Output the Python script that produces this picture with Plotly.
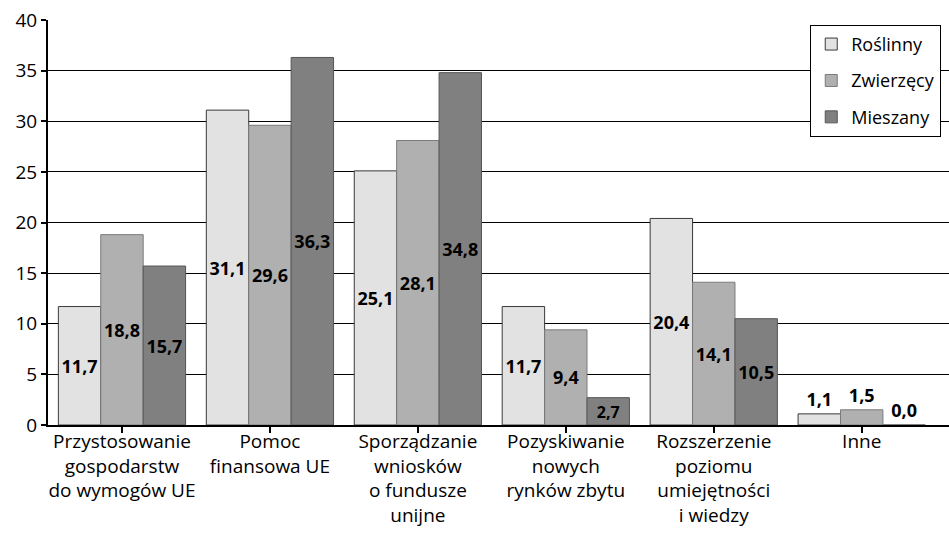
import plotly.graph_objects as go

categories = [
    "Przystosowanie<br>gospodarstw<br>do wymogów UE",
    "Pomoc<br>finansowa UE",
    "Sporządzanie<br>wniosków<br>o fundusze<br>unijne",
    "Pozyskiwanie<br>nowych<br>rynków zbytu",
    "Rozszerzenie<br>poziomu<br>umiejętności<br>i wiedzy",
    "Inne",
]
series_names = ["Roślinny", "Zwierzęcy", "Mieszany"]
roslinny = [11.7, 31.1, 25.1, 11.7, 20.4, 1.1]
zwierzecy = [18.8, 29.6, 28.1, 9.4, 14.1, 1.5]
mieszany = [15.7, 36.3, 34.8, 2.7, 10.5, 0.0]
y_ticks = [0, 5, 10, 15, 20, 25, 30, 35, 40]

fills = ["#e2e2e2", "#b0b0b0", "#808080"]
outlines = ["#3a3a3a", "#7a7a7a", "#555555"]
FONT = "Open Sans"

fig = go.Figure()
xs = list(range(len(categories)))
for i, (name, vals) in enumerate(zip(series_names, [roslinny, zwierzecy, mieszany])):
    pos = ["inside" if v >= 2 else "outside" for v in vals]
    fig.add_trace(go.Bar(
        x=xs, y=vals, name=name, legendgroup=name,
        marker=dict(color=fills[i], line=dict(color=outlines[i], width=1)),
        texttemplate="<b>%{y:.1f}</b>", textposition=pos,
        insidetextanchor="middle", textangle=0,
        textfont=dict(family=FONT, size=18, color="black"),
        cliponaxis=False,
    ))

fig.update_layout(
    width=949, height=534,
    margin=dict(l=48, r=0, t=20, b=109),
    paper_bgcolor="white", plot_bgcolor="white",
    barmode="group", bargap=0.14, bargroupgap=0,
    separators=", ",
    font=dict(family=FONT, size=18, color="black"),
    showlegend=True,
    legend=dict(
        x=0.846, y=0.988, xanchor="left", yanchor="top",
        bordercolor="black", borderwidth=1, bgcolor="white",
        font=dict(family=FONT, size=18, color="black"),
        traceorder="grouped", tracegroupgap=10,
    ),
)
fig.update_xaxes(
    tickmode="array", tickvals=xs, ticktext=categories,
    range=[-0.5, 5.59], tickson="boundaries", automargin=False,
    ticks="outside", ticklen=6, tickwidth=2, tickcolor="black",
    ticklabelstandoff=-8,
    showline=True, linecolor="black", linewidth=2,
    showgrid=False, zeroline=False,
    tickfont=dict(family=FONT, size=19, color="black"),
)
fig.update_yaxes(
    range=[0, 40], tickvals=y_ticks, automargin=False,
    ticks="outside", ticklen=5, tickwidth=1.5, tickcolor="black",
    showline=True, linecolor="black", linewidth=2,
    showgrid=True, gridcolor="black", gridwidth=1,
    zeroline=False,
    tickfont=dict(family=FONT, size=19, color="black"),
)
fig.write_html(
    "out.html",
    config={"displayModeBar": False},
    post_script="document.body.style.margin='0';document.body.style.overflow='hidden';",
)
